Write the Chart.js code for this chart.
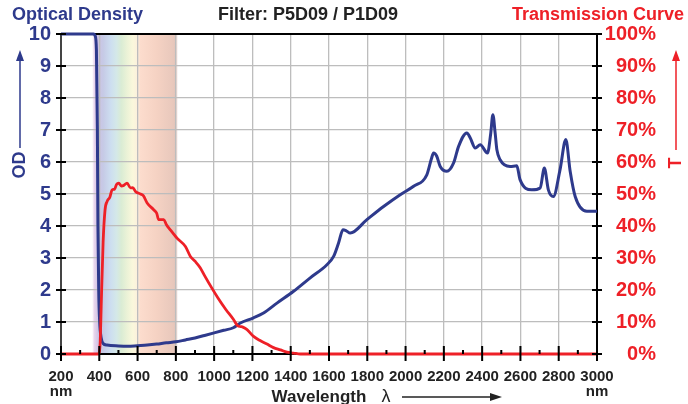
<!DOCTYPE html>
<html lang="en">

<head>
    <meta charset="UTF-8">
    <title>Filter P5D09 / P1D09</title>
    <script src="https://cdn.jsdelivr.net/npm/chart.js"></script>
    <style>
        body { margin: 0; background: #fff; }
    </style>
</head>

<body>
    <canvas id="filterChart" width="688" height="404"></canvas>
    <script>
        // optical density curve (left axis)
        const odWavelength = [200, 300, 370, 378, 385, 390, 393, 397, 402, 410, 420, 440, 500, 550, 600, 650, 700, 750, 800,
            850, 900, 950, 1000, 1050, 1100, 1137, 1206, 1258, 1328, 1415, 1502, 1589, 1624, 1650, 1673, 1690, 1711,
            1798, 1885, 1972, 2042, 2111, 2135, 2146, 2163, 2181, 2216, 2251, 2277, 2320, 2338, 2364, 2390, 2428,
            2445, 2456, 2468, 2477, 2494, 2546, 2581, 2598, 2659, 2703, 2725, 2746, 2772, 2807, 2837, 2860, 2886,
            2947, 3000];
        const odValues = [10, 10, 10, 9.95, 9.5, 7, 4, 2, 1, 0.5, 0.33, 0.28, 0.25, 0.24, 0.26, 0.28, 0.31, 0.35, 0.38,
            0.44, 0.5, 0.58, 0.66, 0.74, 0.82, 0.97, 1.13, 1.28, 1.59, 1.96, 2.38, 2.79, 3.05, 3.47, 3.88, 3.85, 3.78,
            4.2, 4.61, 4.98, 5.24, 5.6, 6.1, 6.28, 6.18, 5.86, 5.71, 5.97, 6.49, 6.91, 6.75, 6.44, 6.54, 6.28,
            6.9, 7.48, 6.9, 6.38, 6.07, 5.86, 5.88, 5.45, 5.13, 5.19, 5.81, 5.13, 4.92, 5.76, 6.7, 5.7, 4.92,
            4.46, 4.46];

        // transmission curve (right axis, %)
        const tWavelength = [200, 380, 395, 400, 405, 410, 420, 430, 441, 455, 467, 480, 490, 502, 515, 528, 545, 563,
            575, 589, 615, 630, 650, 684, 700, 710, 737, 750, 771, 806, 850, 876, 900, 928, 950, 989, 1020, 1060,
            1102, 1120, 1137, 1150, 1172, 1206, 1240, 1276, 1310, 1346, 1380, 1415, 1450, 3000];
        const tValues = [0, 0, 0, 0.5, 4, 15, 35, 45, 47.7, 49, 51.3, 51.5, 53, 53.4, 52.5, 52.7, 53.4, 51.9,
            52, 50.8, 50, 49.5, 47.2, 45.1, 44, 42, 42, 40.5, 38.8, 36.2, 33.6, 30.5, 29, 26.9, 24.5, 20.5, 17.5, 14,
            10.7, 9, 8.6, 8.4, 7.6, 5.5, 4.2, 3.1, 2, 1.3, 0.6, 0.3, 0, 0];

        // tick labels
        const xTicks = [200, 400, 600, 800, 1000, 1200, 1400, 1600, 1800, 2000, 2200, 2400, 2600, 2800, 3000];
        const odTicks = [0, 1, 2, 3, 4, 5, 6, 7, 8, 9, 10];
        const tTicks = [0, 10, 20, 30, 40, 50, 60, 70, 80, 90, 100];

        // visible spectrum band behind the plot
        const bandStops = [
            [360, 'rgba(255,255,255,0)'], [372, 'rgb(235,215,238)'], [395, 'rgb(205,195,228)'],
            [420, 'rgb(198,202,230)'], [460, 'rgb(205,222,240)'], [490, 'rgb(212,232,232)'],
            [515, 'rgb(218,236,212)'], [545, 'rgb(235,242,215)'], [575, 'rgb(250,248,220)'],
            [600, 'rgb(252,240,220)'], [615, 'rgb(252,220,205)'], [700, 'rgb(245,210,195)'],
            [785, 'rgb(232,200,188)'], [800, 'rgb(225,195,185)'], [815, 'rgba(255,255,255,0)']
        ];

        const NAVY = '#2e3a8c';
        const RED = '#ee2027';
        const SANS = "'Liberation Sans', Arial, Helvetica, sans-serif";

        function arrowUp(ctx, x, y0, y1, color) {
            ctx.strokeStyle = color;
            ctx.fillStyle = color;
            ctx.lineWidth = 1.5;
            ctx.beginPath();
            ctx.moveTo(x, y0);
            ctx.lineTo(x, y1 + 8);
            ctx.stroke();
            ctx.beginPath();
            ctx.moveTo(x, y1);
            ctx.lineTo(x - 4, y1 + 11);
            ctx.lineTo(x + 4, y1 + 11);
            ctx.closePath();
            ctx.fill();
        }

        const decor = {
            id: 'decor',
            beforeDraw(chart) {
                const { ctx, chartArea: a, scales: { x } } = chart;
                ctx.save();
                ctx.fillStyle = '#fff';
                ctx.fillRect(0, 0, chart.width, chart.height);
                const x0 = x.getPixelForValue(bandStops[0][0]);
                const x1 = x.getPixelForValue(bandStops[bandStops.length - 1][0]);
                const g = ctx.createLinearGradient(x0, 0, x1, 0);
                bandStops.forEach(([nm, c]) => g.addColorStop((x.getPixelForValue(nm) - x0) / (x1 - x0), c));
                ctx.fillStyle = g;
                ctx.fillRect(x0, a.top, x1 - x0, a.bottom - a.top);
                ctx.restore();
            },
            afterDraw(chart) {
                const { ctx, chartArea: a, scales: { x, y, y2 } } = chart;
                ctx.save();
                // tick marks
                ctx.strokeStyle = '#000';
                ctx.lineWidth = 2;
                ctx.beginPath();
                odTicks.forEach(v => {
                    const py = y.getPixelForValue(v);
                    ctx.moveTo(a.left - 5, py);
                    ctx.lineTo(a.left + 5, py);
                });
                tTicks.forEach(v => {
                    const py = y2.getPixelForValue(v);
                    ctx.moveTo(a.right - 5, py);
                    ctx.lineTo(a.right + 5, py);
                });
                xTicks.forEach(v => {
                    const px = x.getPixelForValue(v);
                    ctx.moveTo(px, a.bottom - 8);
                    ctx.lineTo(px, a.bottom + 7);
                    if (v < 3000) {
                        const pm = x.getPixelForValue(v + 100);
                        ctx.moveTo(pm, a.bottom - 4);
                        ctx.lineTo(pm, a.bottom);
                    }
                });
                ctx.stroke();

                // titles
                ctx.textBaseline = 'middle';
                ctx.font = 'bold 18px ' + SANS;
                ctx.fillStyle = NAVY;
                ctx.textAlign = 'left';
                ctx.fillText('Optical Density', 12, 15);
                ctx.fillStyle = '#222';
                ctx.textAlign = 'center';
                ctx.fillText('Filter: P5D09 / P1D09', 308, 15);
                ctx.fillStyle = RED;
                ctx.textAlign = 'right';
                ctx.fillText('Transmission Curve', 684, 15);

                // axis titles
                ctx.save();
                ctx.translate(20, 165);
                ctx.rotate(-Math.PI / 2);
                ctx.textAlign = 'center';
                ctx.fillStyle = NAVY;
                ctx.fillText('OD', 0, 0);
                ctx.restore();
                arrowUp(ctx, 20, 148, 50, NAVY);

                ctx.save();
                ctx.translate(676, 163);
                ctx.rotate(-Math.PI / 2);
                ctx.textAlign = 'center';
                ctx.fillStyle = RED;
                ctx.fillText('T', 0, 0);
                ctx.restore();
                arrowUp(ctx, 676, 150, 50, RED);

                // x title
                ctx.fillStyle = '#222';
                ctx.font = 'bold 17px ' + SANS;
                ctx.textAlign = 'center';
                ctx.fillText('Wavelength', 319, 397);
                ctx.font = '18px ' + SANS;
                ctx.fillText('λ', 386, 397);
                ctx.strokeStyle = '#222';
                ctx.fillStyle = '#222';
                ctx.lineWidth = 1.5;
                ctx.beginPath();
                ctx.moveTo(402, 397);
                ctx.lineTo(494, 397);
                ctx.stroke();
                ctx.beginPath();
                ctx.moveTo(502, 397);
                ctx.lineTo(490, 393);
                ctx.lineTo(490, 401);
                ctx.closePath();
                ctx.fill();
                ctx.restore();
            }
        };

        const toPoints = (xs, ys) => xs.map((v, i) => ({ x: v, y: ys[i] }));

        const data = {
            datasets: [{
                label: 'Transmission',
                data: toPoints(tWavelength, tValues),
                yAxisID: 'y2',
                borderColor: RED,
                borderWidth: 2.8,
                pointRadius: 0,
                cubicInterpolationMode: 'monotone',
                clip: 4
            }, {
                label: 'Optical Density',
                data: toPoints(odWavelength, odValues),
                yAxisID: 'y',
                borderColor: NAVY,
                borderWidth: 3,
                pointRadius: 0,
                cubicInterpolationMode: 'monotone',
                clip: 4
            }]
        };

        const config = {
            type: 'line',
            data: data,
            options: {
                responsive: false,
                animation: false,
                layout: { padding: { top: 34, right: 32 } },
                plugins: {
                    legend: { display: false },
                    tooltip: { enabled: false }
                },
                scales: {
                    x: {
                        type: 'linear',
                        min: 200,
                        max: 3000,
                        afterBuildTicks: s => { s.ticks = xTicks.map(v => ({ value: v })); },
                        afterFit: s => { s.height = 50; },
                        ticks: {
                            autoSkip: false,
                            maxRotation: 0,
                            padding: 15,
                            color: '#222',
                            font: { family: SANS, size: 15, weight: 'bold', lineHeight: 1.0 },
                            callback: v => (v === 200 || v === 3000) ? [String(v), 'nm'] : String(v)
                        },
                        grid: { color: '#bdbdbd', lineWidth: 1.3, drawTicks: false },
                        border: { color: '#000', width: 2 }
                    },
                    y: {
                        position: 'left',
                        min: 0,
                        max: 10,
                        afterBuildTicks: s => { s.ticks = odTicks.map(v => ({ value: v })); },
                        afterFit: s => { s.width = 61; },
                        ticks: {
                            padding: 10,
                            color: NAVY,
                            font: { family: SANS, size: 20, weight: 'bold' }
                        },
                        grid: {
                            color: c => c.tick && c.tick.value === 10 ? '#000' : '#bdbdbd',
                            lineWidth: c => c.tick && c.tick.value === 10 ? 2 : 1.3,
                            drawTicks: false
                        },
                        border: { color: '#444', width: 2 }
                    },
                    y2: {
                        position: 'right',
                        min: 0,
                        max: 100,
                        afterBuildTicks: s => { s.ticks = tTicks.map(v => ({ value: v })); },
                        afterFit: s => { s.width = 59; },
                        ticks: {
                            padding: 6,
                            crossAlign: 'far',
                            color: RED,
                            font: { family: SANS, size: 20, weight: 'bold' },
                            callback: v => v + '%'
                        },
                        grid: { display: false, drawTicks: false },
                        border: { color: '#000', width: 2 }
                    }
                }
            },
            plugins: [decor]
        };

        const ctx = document.querySelector('#filterChart').getContext('2d');
        const filterChart = new Chart(ctx, config);
    </script>
</body>

</html>
